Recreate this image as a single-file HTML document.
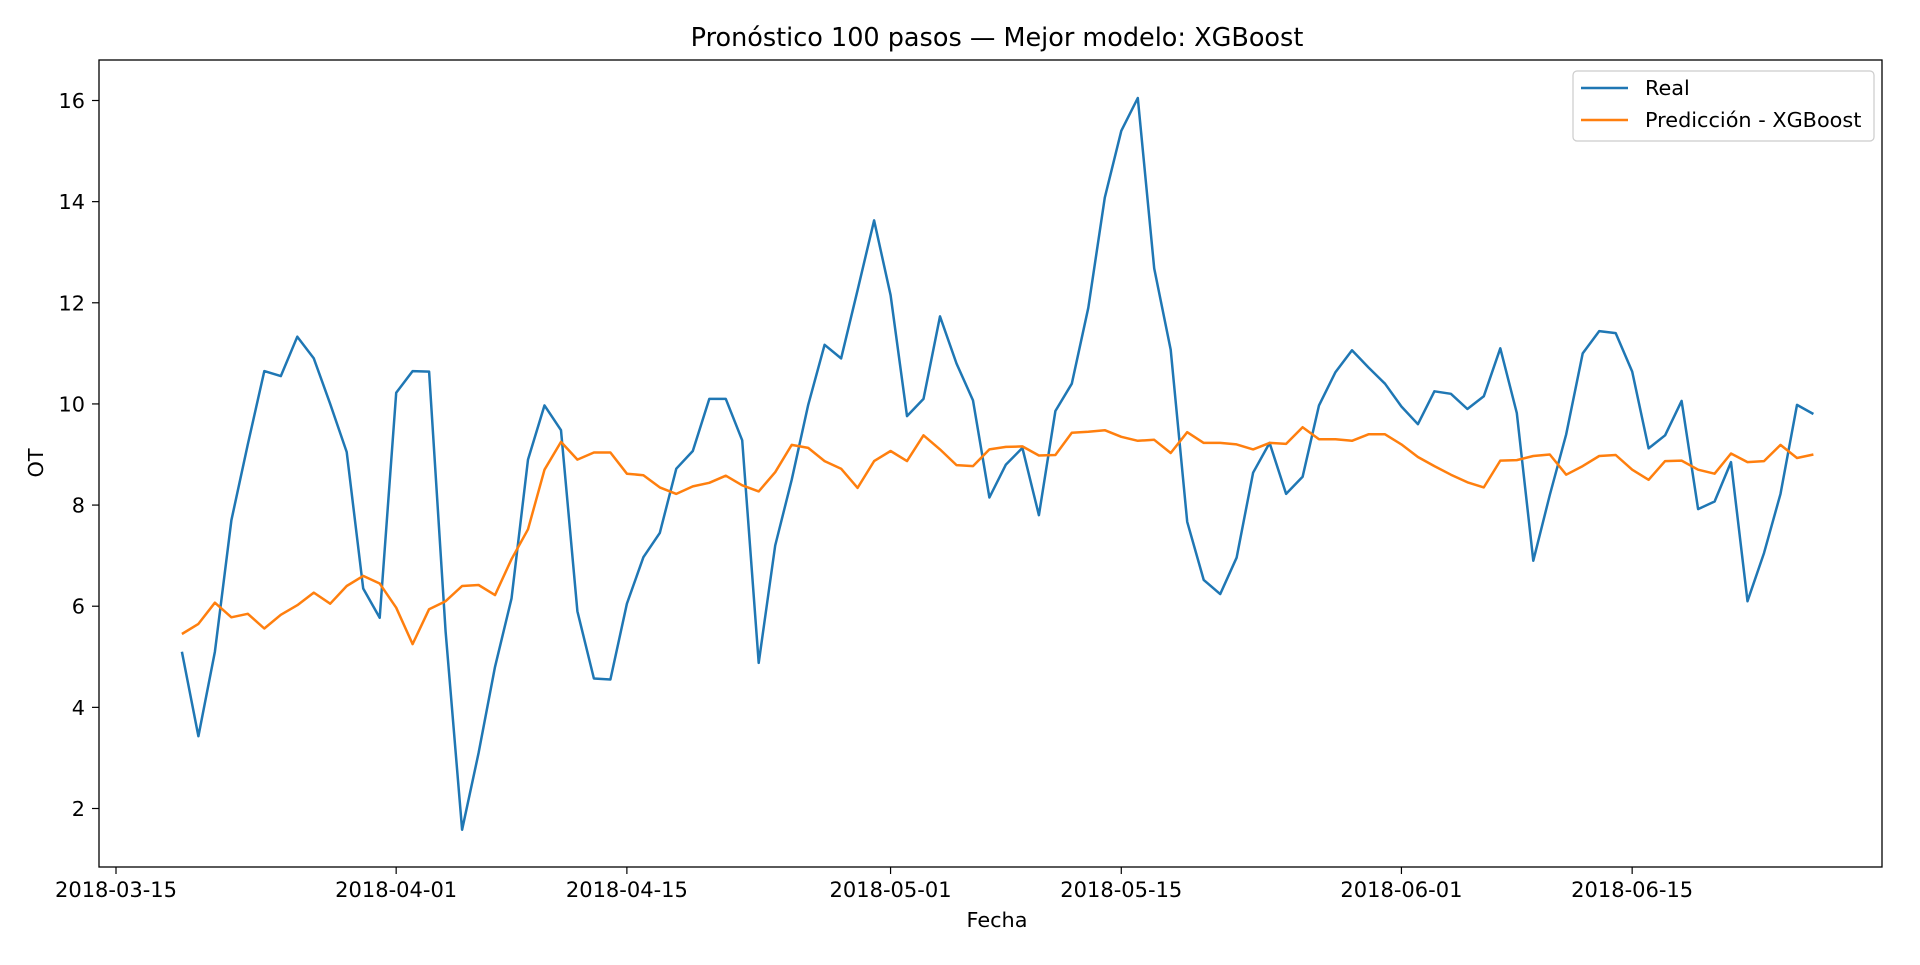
<!DOCTYPE html>
<html><head><meta charset="utf-8"><style>
body{margin:0;background:#fff}
svg text{font-family:"DejaVu Sans","Liberation Sans",sans-serif;fill:#000}
</style></head><body>
<svg id="chart" width="1920" height="960" viewBox="0 0 1920 960">
<rect width="1920" height="960" fill="#fff"/>
<text x="997" y="46" font-size="25.5" text-anchor="middle">Pronóstico 100 pasos — Mejor modelo: XGBoost</text>
<g id="plot"></g>
<text x="997" y="927" font-size="20.8" text-anchor="middle">Fecha</text>
<text x="0" y="0" font-size="20.8" text-anchor="middle" transform="translate(43,463) rotate(-90)">OT</text>
</svg>
<script>
const startDate = "2018-03-19";
const realValues = [5.1,3.43,5.1,7.7,9.2,10.65,10.55,11.33,10.9,10.0,9.05,6.35,5.77,10.22,10.65,10.64,5.5,1.58,3.1,4.8,6.15,8.9,9.97,9.48,5.9,4.57,4.55,6.05,6.97,7.45,8.72,9.07,10.1,10.1,9.28,4.88,7.2,8.5,9.98,11.17,10.9,12.25,13.63,12.15,9.76,10.1,11.73,10.8,10.07,8.15,8.8,9.13,7.8,9.86,10.4,11.9,14.08,15.4,16.05,12.68,11.07,7.67,6.52,6.24,6.96,8.64,9.23,8.22,8.56,9.97,10.63,11.06,10.72,10.4,9.95,9.6,10.25,10.2,9.9,10.15,11.1,9.82,6.9,8.2,9.4,11.0,11.44,11.4,10.64,9.12,9.38,10.06,7.92,8.07,8.85,6.1,7.05,8.22,9.98,9.8];
const predValues = [5.45,5.65,6.07,5.78,5.85,5.56,5.83,6.02,6.27,6.05,6.4,6.6,6.45,5.97,5.25,5.94,6.1,6.4,6.42,6.22,6.93,7.52,8.7,9.25,8.9,9.04,9.04,8.62,8.59,8.35,8.22,8.37,8.44,8.58,8.39,8.27,8.65,9.19,9.13,8.87,8.72,8.34,8.87,9.07,8.87,9.38,9.1,8.79,8.77,9.1,9.15,9.16,8.98,8.99,9.43,9.45,9.48,9.35,9.27,9.29,9.03,9.44,9.23,9.23,9.2,9.1,9.23,9.21,9.54,9.3,9.3,9.27,9.4,9.4,9.2,8.95,8.77,8.6,8.45,8.35,8.88,8.89,8.97,9.0,8.6,8.77,8.97,8.99,8.7,8.5,8.87,8.88,8.7,8.62,9.02,8.85,8.87,9.19,8.93,9.0];
const xTickLabels = ["2018-03-15","2018-04-01","2018-04-15","2018-05-01","2018-05-15","2018-06-01","2018-06-15"];
const yTickValues = [2,4,6,8,10,12,14,16];

const NS="http://www.w3.org/2000/svg";
const L=99,R=1882,T=60,B=867;
const dayMs=86400000, ref=Date.parse("2018-03-15");
function xScale(d){return 116+(Date.parse(d)-ref)/dayMs*16.48;}
function xIdx(i){return xScale(startDate)+i*16.48;}
function yScale(v){return 808.5-(v-2)*(708/14);}
const g=document.getElementById('plot');
function mk(tag,attrs){const e=document.createElementNS(NS,tag);for(const k in attrs)e.setAttribute(k,attrs[k]);g.appendChild(e);return e;}

xTickLabels.forEach(t=>{const x=xScale(t);
 const l=mk('line',{x1:x,x2:x,y1:B,y2:B+7,stroke:'#000','stroke-width':1.2});
 
 
 const tx=mk('text',{x:x,y:B+30,'font-size':21,'text-anchor':'middle'});tx.textContent=t;
 
 
});
yTickValues.forEach(v=>{const y=yScale(v);
 const l=mk('line',{x1:L-7,x2:L,y1:y,y2:y,stroke:'#000','stroke-width':1.2});
 
 
 const tx=mk('text',{x:L-14,y:y+7.5,'font-size':20.8,'text-anchor':'end'});tx.textContent=v;
 
 
});
function series(vals,color,name){
 const p=mk('polyline',{points:vals.map((v,i)=>xIdx(i).toFixed(1)+','+yScale(v).toFixed(1)).join(' '),fill:'none',stroke:color,'stroke-width':2.5,'stroke-linejoin':'round'});
 
 
}
series(realValues,'#1f77b4','real-line');
series(predValues,'#ff7f0e','prediction-line');
const frame=mk('rect',{x:L,y:T,width:R-L,height:B-T,fill:'none',stroke:'#000','stroke-width':1.3});


// legend
const lg=mk('rect',{x:1573,y:71,width:301,height:70,rx:4,fill:'#fff','fill-opacity':0.8,stroke:'#ccc','stroke-width':1.2});


const l1=mk('line',{x1:1581,x2:1628,y1:88,y2:88,stroke:'#1f77b4','stroke-width':2.5});


const t1=mk('text',{x:1645,y:95,'font-size':20.8});t1.textContent='Real';


const l2=mk('line',{x1:1581,x2:1628,y1:120,y2:120,stroke:'#ff7f0e','stroke-width':2.5});


const t2=mk('text',{x:1645,y:127,'font-size':20.8});t2.textContent='Predicción - XGBoost';


</script>
</body></html>
